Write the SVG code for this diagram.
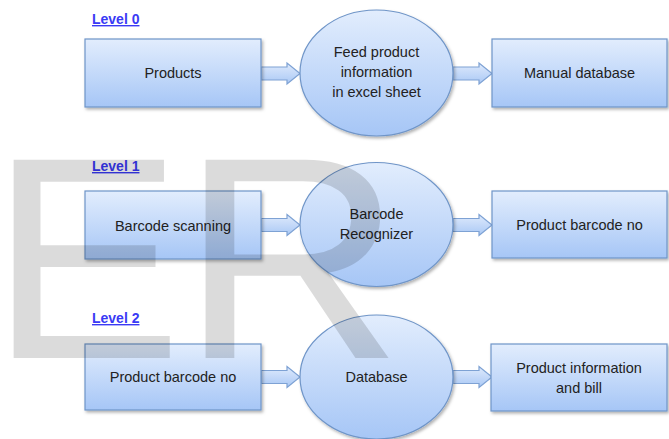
<svg xmlns="http://www.w3.org/2000/svg" width="669" height="439" viewBox="0 0 669 439">
  <defs>
    <linearGradient id="fillBlue" x1="0" y1="0" x2="0" y2="1">
      <stop offset="0" stop-color="#e2edfd"/>
      <stop offset="1" stop-color="#a6c6f6"/>
    </linearGradient>
    <linearGradient id="arrowBlue" x1="0" y1="0" x2="0" y2="1">
      <stop offset="0" stop-color="#dfeafc"/>
      <stop offset="1" stop-color="#a9c8f5"/>
    </linearGradient>
    <filter id="shadow" x="-10%" y="-10%" width="125%" height="130%">
      <feDropShadow dx="1.5" dy="2" stdDeviation="1.5" flood-color="#000" flood-opacity="0.3"/>
    </filter>
    <path id="blockArrow" d="M0,-6.5 H26 V-10.5 L39,0 L26,10.5 V6.5 H0 Z"/>
  </defs>
  <style>
    .box { fill: url(#fillBlue); stroke: #6f95c8; stroke-width: 1.2; filter: url(#shadow); }
    .proc { fill: url(#fillBlue); stroke: #6f95c8; stroke-width: 1.2; filter: url(#shadow); }
    .arrow { fill: url(#arrowBlue); stroke: #7ea2d4; stroke-width: 1.2; }
    .label { font-family: "Liberation Sans", Arial, sans-serif; font-size: 14.5px; fill: #222; text-anchor: middle; }
    .level { font-family: "Liberation Sans", Arial, sans-serif; font-size: 14px; font-weight: bold; fill: #3a3af5; text-decoration: underline; }
    .mark { font-family: "Liberation Sans", Arial, sans-serif; font-size: 288px; fill: #000; fill-opacity: 0.14; }
  </style>
  <rect width="669" height="439" fill="#ffffff"/>

  <!-- level headings -->
  <text class="level" x="92" y="24">Level 0</text>
  <text class="level" x="92" y="171">Level 1</text>
  <text class="level" x="92" y="323">Level 2</text>

  <!-- connectors -->
  <g id="connectors">
    <use href="#blockArrow" class="arrow" transform="translate(261,73.5)"/>
    <use href="#blockArrow" class="arrow" transform="translate(453,73.5)"/>
    <use href="#blockArrow" class="arrow" transform="translate(261,225)"/>
    <use href="#blockArrow" class="arrow" transform="translate(453,225)"/>
    <use href="#blockArrow" class="arrow" transform="translate(261,377)"/>
    <use href="#blockArrow" class="arrow" transform="translate(453,377)"/>
  </g>

  <!-- level 0 -->
  <g id="products">
    <rect class="box" x="85" y="39" width="176" height="68"/>
    <text class="label" x="173" y="78">Products</text>
  </g>
  <g id="feed-product">
    <ellipse class="proc" cx="376.5" cy="73" rx="76.5" ry="63"/>
    <text class="label" x="376.5" y="57">Feed product</text>
    <text class="label" x="376.5" y="77">information</text>
    <text class="label" x="376.5" y="97">in excel sheet</text>
  </g>
  <g id="manual-database">
    <rect class="box" x="492" y="39" width="175" height="68"/>
    <text class="label" x="579.5" y="78">Manual database</text>
  </g>

  <!-- level 1 -->
  <g id="barcode-scanning">
    <rect class="box" x="85" y="191" width="176" height="68"/>
    <text class="label" x="173" y="231">Barcode scanning</text>
  </g>
  <g id="barcode-recognizer">
    <ellipse class="proc" cx="376.5" cy="224.5" rx="76.5" ry="62"/>
    <text class="label" x="376.5" y="219">Barcode</text>
    <text class="label" x="376.5" y="239">Recognizer</text>
  </g>
  <g id="product-barcode-no-1">
    <rect class="box" x="492" y="191" width="175" height="67"/>
    <text class="label" x="579.5" y="230">Product barcode no</text>
  </g>

  <!-- level 2 -->
  <g id="product-barcode-no-2">
    <rect class="box" x="85" y="344" width="176" height="66"/>
    <text class="label" x="173" y="382">Product barcode no</text>
  </g>
  <g id="database">
    <ellipse class="proc" cx="376.5" cy="377" rx="76.5" ry="62"/>
    <text class="label" x="376.5" y="382">Database</text>
  </g>
  <g id="product-information-bill">
    <rect class="box" x="491" y="344" width="176" height="67"/>
    <text class="label" x="579" y="373">Product information</text>
    <text class="label" x="579" y="393">and bill</text>
  </g>

  <!-- watermark lettering over the chart -->
  <g id="watermark">
    <text class="mark" x="-10" y="358">E</text>
    <text class="mark" x="182" y="358" transform="translate(206,0) scale(1.07,1) translate(-206,0)">R</text>
  </g>
</svg>
